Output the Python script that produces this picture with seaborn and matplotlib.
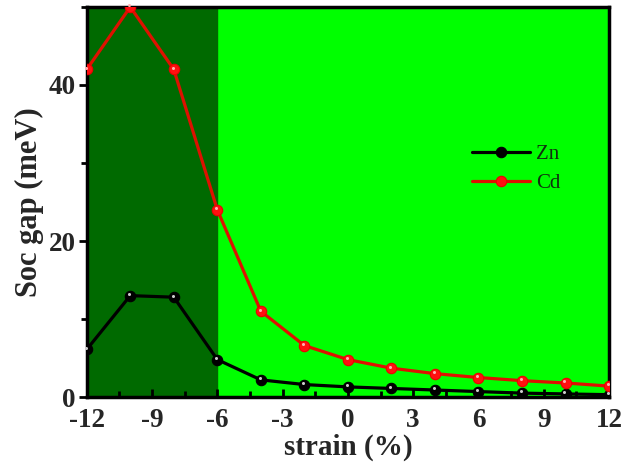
import numpy as np
import pandas as pd
import seaborn as sns
import matplotlib.pyplot as plt
from matplotlib.ticker import MultipleLocator
from matplotlib.transforms import offset_copy

strain = [-12, -10, -8, -6, -4, -2, 0, 2, 4, 6, 8, 10, 12]
zn_gap = [6.1, 13.0, 12.8, 4.8, 2.2, 1.6, 1.3, 1.1, 0.9, 0.7, 0.5, 0.4, 0.3]
cd_gap = [42.0, 50.0, 42.0, 24.0, 11.0, 6.6, 4.8, 3.7, 3.0, 2.5, 2.1, 1.8, 1.4]

df = pd.DataFrame({'strain': strain * 2,
                   'gap': zn_gap + cd_gap,
                   'metal': ['Zn'] * len(strain) + ['Cd'] * len(strain)})

sns.set_style('ticks')
plt.rcParams['font.family'] = ['Liberation Serif', 'DejaVu Serif']
plt.rcParams['axes.unicode_minus'] = False

fig = plt.figure(figsize=(6.24, 4.66), dpi=100)
ax = fig.add_axes([0.139, 0.148, 0.837, 0.837])
ax.set_facecolor('#00ff00')
ax.axvspan(-12, -6, color='#006a00', zorder=0)

sns.lineplot(data=df, x='strain', y='gap', hue='metal',
             palette={'Zn': 'black', 'Cd': '#dd1100'}, marker='o',
             markersize=7.5, markeredgecolor='black', markeredgewidth=0.8,
             linewidth=2.3, ax=ax, zorder=3)
# red markers keep a red edge
for line in ax.get_lines():
    if line.get_color() == '#dd1100':
        line.set_markerfacecolor('#ff1010')
        line.set_markeredgecolor('#ee0000')

# little shine on the balls
shine = offset_copy(ax.transData, fig=fig, x=-0.8, y=1.2, units='points')
ax.plot(strain, zn_gap, 'o', ms=2.2, color='#cccccc', mew=0, transform=shine, zorder=4, clip_on=False)
ax.plot(strain, cd_gap, 'o', ms=2.2, color='#ffb0b0', mew=0, transform=shine, zorder=4, clip_on=False)

ax.set_xlim(-12, 12)
ax.set_ylim(0, 50)
ax.xaxis.set_major_locator(MultipleLocator(3))
ax.xaxis.set_minor_locator(MultipleLocator(1.5))
ax.yaxis.set_major_locator(MultipleLocator(20))
ax.yaxis.set_minor_locator(MultipleLocator(10))
ax.tick_params(which='both', width=2, labelsize=19.5, color='black')
ax.tick_params(axis='x', which='both', direction='in', pad=8)
ax.tick_params(axis='y', which='both', direction='out', pad=2)
ax.tick_params(which='major', length=6)
ax.tick_params(which='minor', length=4)
for lbl in ax.get_xticklabels() + ax.get_yticklabels():
    lbl.set_fontweight('bold')
for s in ax.spines.values():
    s.set_linewidth(2.5)
    s.set_color('black')

ax.set_xlabel('strain (%)', fontsize=21, fontweight='bold', labelpad=0.5)
ax.set_ylabel('Soc gap (meV)', fontsize=22, fontweight='bold', labelpad=3)

handles, labels = ax.get_legend_handles_labels()
order = [labels.index('Zn'), labels.index('Cd')]
leg = ax.legend([handles[i] for i in order], ['Zn', 'Cd'], loc='center left',
                bbox_to_anchor=(0.737, 0.585), frameon=False, fontsize=15,
                handlelength=2.8, handletextpad=0.3, labelspacing=0.45,
                borderpad=0, borderaxespad=0)
for t in leg.get_texts():
    t.set_color('#103010')

fig.savefig('out.png', dpi=100)
